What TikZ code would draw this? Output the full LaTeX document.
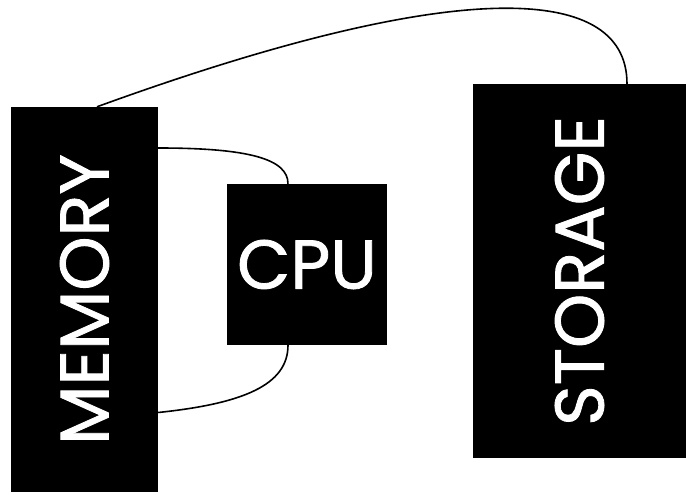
\documentclass[tikz,border=0pt]{standalone}
\usepackage{fontspec}
\setmainfont{Poppins}[FakeBold=1.2]
\usepackage{graphicx}
\begin{document}
\begin{tikzpicture}[x=1pt,y=-1pt,
  blk/.style={fill=black, draw=none, inner sep=0pt, text=white, font=\fontsize{69}{69}\selectfont},
  link/.style={line width=1.6pt}]
\useasboundingbox (0,0) rectangle (686,495);
\node[blk, minimum width=147pt, minimum height=385pt] (mem) at (84.5,299.5) {\rotatebox{90}{MEMORY}};
\node[blk, minimum width=160pt, minimum height=161pt] (cpu) at (307,264.5) {CPU};
\node[blk, minimum width=213pt, minimum height=374pt] (sto) at (579.5,271) {\rotatebox{90}{STORAGE}};
\draw[link] ([xshift=12.5pt]mem.north) .. controls +(20:370pt) and +(90:105pt) .. ([xshift=47.5pt]sto.north);
\draw[link] ([yshift=151.5pt]mem.east) .. controls +(0:90pt) and +(90:25pt) .. ([xshift=-19pt]cpu.north);
\draw[link] ([yshift=-113pt]mem.east) .. controls +(6:85pt) and +(-90:40pt) .. ([xshift=-19pt]cpu.south);
\end{tikzpicture}
\end{document}
